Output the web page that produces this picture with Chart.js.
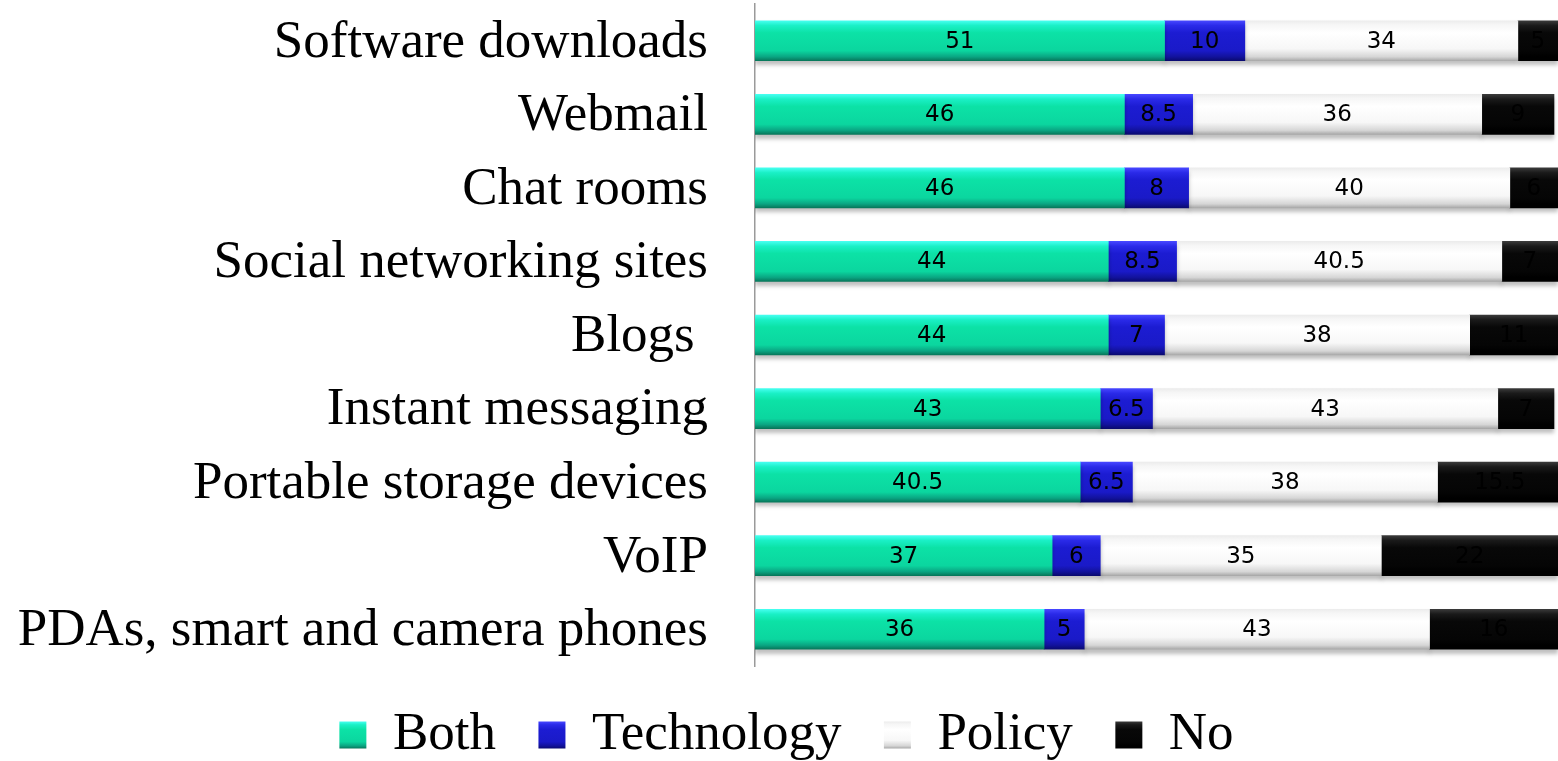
<!DOCTYPE html>
<html>
<head>
<meta charset="utf-8">
<title>Controls by application</title>
<script src="https://cdn.jsdelivr.net/npm/chart.js@4/dist/chart.umd.min.js"></script>
<style>
  html, body { margin: 0; padding: 0; background: #fff; }
  #chart { display: block; }
</style>
</head>
<body>
<canvas id="chart" width="1558" height="761"></canvas>
<script>
const categories = [
  "Software downloads",
  "Webmail",
  "Chat rooms",
  "Social networking sites",
  "Blogs ",
  "Instant messaging",
  "Portable storage devices",
  "VoIP",
  "PDAs, smart and camera phones",
];

const bothValues = [51, 46, 46, 44, 44, 43, 40.5, 37, 36];
const technologyValues = [10, 8.5, 8, 8.5, 7, 6.5, 6.5, 6, 5];
const policyValues = [34, 36, 40, 40.5, 38, 43, 38, 35, 43];
const noValues = [5, 9, 6, 7, 11, 7, 15.5, 22, 16];

const BAR_THICKNESS = 40;
const LEGEND_FONT = 53;
const LEGEND_PADDING = 42.5;
const LEGEND_BOX = 27;

// gradient stops for the bevelled bars, top to bottom
const BOTH_STOPS = [[0, "#46fff0"], [0.12, "#1af0c6"], [0.3, "#0ce2a6"], [0.75, "#0bd69f"], [0.9, "#0aa582"], [1, "#07775a"]];
const TECH_STOPS = [[0, "#4646ff"], [0.12, "#2a2ae8"], [0.3, "#1c1cd2"], [0.75, "#1a1ac8"], [0.9, "#12129c"], [1, "#0a0a70"]];
const POLICY_STOPS = [[0, "#ececec"], [0.1, "#f6f6f6"], [0.3, "#ffffff"], [0.7, "#f7f7f7"], [0.9, "#d6d6d6"], [1, "#a8a8a8"]];
const NO_STOPS = [[0, "#3a3a3a"], [0.12, "#1a1a1a"], [0.3, "#080808"], [0.75, "#050505"], [0.9, "#000000"], [1, "#000000"]];

function makeGradient(ctx, stops, top, height) {
  const gradient = ctx.createLinearGradient(0, top, 0, top + height);
  stops.forEach(([offset, color]) => gradient.addColorStop(offset, color));
  return gradient;
}

function barGradient(stops, fallback) {
  return (context) => {
    const chart = context.chart;
    const yScale = chart.scales.y;
    if (context.type !== "data" || !yScale) return fallback;
    const center = yScale.getPixelForValue(context.dataIndex);
    return makeGradient(chart.ctx, stops, center - BAR_THICKNESS / 2, BAR_THICKNESS);
  };
}

// soft shadow under the bars
const barShadow = {
  id: "barShadow",
  beforeDatasetsDraw(chart) {
    const ctx = chart.ctx;
    ctx.save();
    ctx.shadowColor = "rgba(0, 0, 0, 0.25)";
    ctx.shadowBlur = 4;
    ctx.shadowOffsetY = 4;
  },
  afterDatasetsDraw(chart) {
    chart.ctx.restore();
  },
};

// value labels in the middle of every segment
const valueLabels = {
  id: "valueLabels",
  afterDatasetsDraw(chart) {
    const ctx = chart.ctx;
    ctx.save();
    ctx.font = "23px 'DejaVu Sans', sans-serif";
    ctx.fillStyle = "#000";
    ctx.textAlign = "center";
    ctx.textBaseline = "middle";
    chart.data.datasets.forEach((dataset, i) => {
      const meta = chart.getDatasetMeta(i);
      meta.data.forEach((bar, index) => {
        const { x, y } = bar.getCenterPoint();
        ctx.fillText(String(dataset.data[index]), x, y + 1);
      });
    });
    ctx.restore();
  },
};

const series = [
  { label: "Both", data: bothValues, stops: BOTH_STOPS, legend: "#12dcaa" },
  { label: "Technology", data: technologyValues, stops: TECH_STOPS, legend: "#1e1ecc" },
  { label: "Policy", data: policyValues, stops: POLICY_STOPS, legend: "#e6e6e6" },
  { label: "No", data: noValues, stops: NO_STOPS, legend: "#0a0a0a" },
];

new Chart(document.getElementById("chart"), {
  type: "bar",
  data: {
    labels: categories,
    datasets: series.map((s) => ({
      label: s.label,
      data: s.data,
      backgroundColor: barGradient(s.stops, s.legend),
      borderWidth: 0,
      barThickness: BAR_THICKNESS,
    })),
  },
  options: {
    indexAxis: "y",
    responsive: false,
    animation: false,
    layout: {
      padding: { left: 15, top: 4, right: 0, bottom: -10.5 },
    },
    scales: {
      x: {
        stacked: true,
        min: 0,
        max: 100,
        display: false,
      },
      y: {
        stacked: true,
        grid: { display: false, drawTicks: false },
        border: { display: true, color: "#9a9a9a", width: 1.5 },
        ticks: {
          color: "#000",
          padding: 47,
          labelOffset: 2,
          autoSkip: false,
          font: { family: "'Liberation Serif', 'Times New Roman', serif", size: 53 },
        },
        afterFit(scale) {
          scale.width = 740;
          // the tick padding should only push labels sideways
          scale.paddingTop = 0;
          scale.paddingBottom = 0;
        },
      },
    },
    plugins: {
      tooltip: { enabled: false },
      legend: {
        position: "bottom",
        labels: {
          color: "#000",
          boxWidth: LEGEND_BOX,
          boxHeight: LEGEND_BOX,
          padding: LEGEND_PADDING,
          font: { family: "'Liberation Serif', 'Times New Roman', serif", size: LEGEND_FONT },
          generateLabels(chart) {
            const legend = chart.legend;
            const placed = legend && Number.isFinite(legend.top);
            const boxTop = placed
              ? legend.top + LEGEND_PADDING + (LEGEND_FONT - LEGEND_BOX) / 2
              : 0;
            return series.map((s, i) => ({
              text: s.label,
              fillStyle: placed ? makeGradient(chart.ctx, s.stops, boxTop, LEGEND_BOX) : s.legend,
              strokeStyle: s.legend,
              lineWidth: 0,
              fontColor: "#000",
              hidden: false,
              datasetIndex: i,
            }));
          },
        },
      },
    },
  },
  plugins: [barShadow, valueLabels],
});
</script>
</body>
</html>
